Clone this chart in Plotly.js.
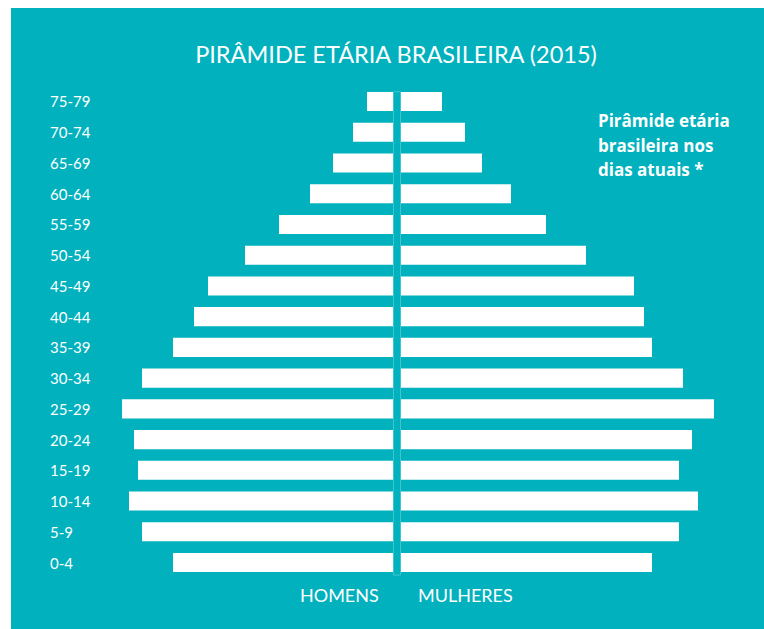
<!DOCTYPE html>
<html>
<head>
<meta charset="utf-8">
<script src="https://cdn.plot.ly/plotly-3.0.1.min.js"></script>
<style>html,body{margin:0;padding:0;background:#fff;}#chart{width:764px;height:629px;}</style>
</head>
<body>
<div id="chart"></div>
<script>
// Age groups, bottom to top
const faixas = ["0-4","5-9","10-14","15-19","20-24","25-29","30-34","35-39","40-44","45-49","50-54","55-59","60-64","65-69","70-74","75-79"];
// Bar lengths (relative units)
const homens   = [220, 251, 264, 255, 259, 271, 251, 220, 199, 185, 148, 114, 83, 60, 40, 26];
const mulheres = [251, 278, 297, 278, 291, 313, 282, 251, 243, 233, 185, 145, 110, 81, 64, 41];
// Side note lines
const nota = ["Pirâmide etária", "brasileira nos", "dias atuais *"];

const W = 764, H = 629;
const teal = "#01B1BE";
const fontMain = "Lato, 'Open Sans', sans-serif";

const traces = [
  {type:"bar", orientation:"h", y:faixas, x:homens, xaxis:"x", yaxis:"y",
   marker:{color:"#ffffff", line:{width:0}}, hoverinfo:"x+y", name:"Homens"},
  {type:"bar", orientation:"h", y:faixas, x:mulheres, xaxis:"x2", yaxis:"y",
   marker:{color:"#ffffff", line:{width:0}}, hoverinfo:"x+y", name:"Mulheres"}
];

const labelAnn = faixas.map(f => ({
  text: f, x: 48/W, xref:"paper", xanchor:"left", y: f, yref:"y", yanchor:"middle",
  showarrow:false, font:{family:fontMain, size:15, color:"#ffffff"}
}));

const notaAnn = nota.map((t, i) => ({
  text: "<b>" + t + "</b>", x: 596/W, xref:"paper", xanchor:"left",
  y: (H - (121 + 24*i))/H, yref:"paper", yanchor:"middle", align:"left", showarrow:false,
  font:{family:"'Open Sans', sans-serif", size:17, color:"#ffffff"}
}));

const layout = {
  width: W, height: H,
  margin:{l:0, r:0, t:0, b:0},
  paper_bgcolor:"#ffffff",
  plot_bgcolor:"rgba(0,0,0,0)",
  showlegend:false,
  bargap:0.38,
  title:{text:"PIRÂMIDE ETÁRIA BRASILEIRA (2015)", x:396/W, xanchor:"center",
         y:(H-55)/H, yanchor:"middle", yref:"container",
         font:{family:fontMain, size:23.5, color:"#ffffff"}},
  xaxis:{domain:[0, 393/W], range:[393, 0], showgrid:false, zeroline:false,
         showticklabels:false, showline:false, ticks:"", fixedrange:true},
  xaxis2:{domain:[401/W, 1], range:[0, W-401], showgrid:false, zeroline:false,
          showticklabels:false, showline:false, ticks:"", fixedrange:true},
  yaxis:{type:"category", categoryorder:"array", categoryarray:faixas,
         range:[-0.5, faixas.length-0.5], domain:[0.0812, 0.8631],
         showgrid:false, zeroline:false, showticklabels:false, ticks:"", showline:false},
  shapes:[
    {type:"rect", xref:"paper", yref:"paper", x0:11/W, x1:1, y0:0, y1:(H-8)/H,
     fillcolor:teal, line:{width:0}, layer:"below"},
    {type:"rect", xref:"paper", yref:"paper", x0:393.5/W, x1:400.5/W, y0:0.0812+0.0045, y1:0.8631-0.0090,
     fillcolor:"rgba(0,0,0,0)", line:{width:1, color:"rgba(255,255,255,0.25)"}, layer:"below"}
  ],
  annotations: labelAnn.concat(notaAnn, [
    {text:"HOMENS", x:339/W, xref:"paper", xanchor:"center", y:(H-595)/H, yref:"paper", yanchor:"middle",
     showarrow:false, font:{family:fontMain, size:18, color:"#ffffff"}},
    {text:"MULHERES", x:466/W, xref:"paper", xanchor:"center", y:(H-595)/H, yref:"paper", yanchor:"middle",
     showarrow:false, font:{family:fontMain, size:18, color:"#ffffff"}}
  ])
};

Plotly.newPlot("chart", traces, layout, {displayModeBar:false, staticPlot:true});
</script>
</body>
</html>
